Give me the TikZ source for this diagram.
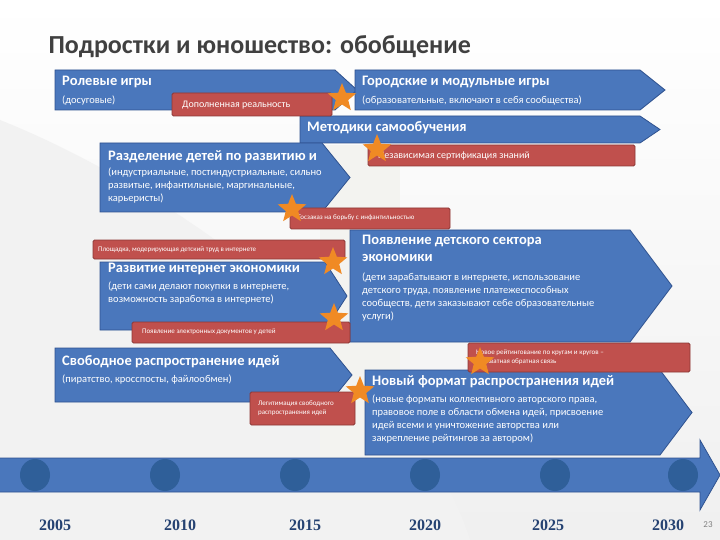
\documentclass[tikz,border=0pt]{standalone}
\usepackage{fontspec}
\setmainfont{Carlito}
\newfontfamily\yrfont{Liberation Serif}
\usetikzlibrary{shapes.geometric}
\definecolor{bl}{HTML}{4A77BC}
\definecolor{bld}{HTML}{2F528F}
\definecolor{rd}{HTML}{C0504D}
\definecolor{rdd}{HTML}{8C3836}
\definecolor{st}{HTML}{F08A24}
\definecolor{cir}{HTML}{2F5F99}
\tikzset{
 arr/.style={fill=bl,draw=bld,line width=0.8pt},
 redbox/.style={fill=rd,draw=rdd,line width=0.8pt,rounded corners=1.5pt},
 hd/.style={anchor=north west,text=white,font=\bfseries\fontsize{14.5}{17}\selectfont,inner sep=0},
 bd/.style={anchor=north west,text=white,font=\fontsize{10.5}{13}\selectfont,inner sep=0,align=left},
 sm/.style={anchor=west,text=white,font=\fontsize{10}{11}\selectfont,inner sep=0,align=left},
 tiny/.style={anchor=west,text=white,font=\fontsize{7}{8.5}\selectfont,inner sep=0,align=left},
 ostar/.style={star,star points=5,star point ratio=2.3,fill=st,minimum size=30pt,inner sep=0,draw=none},
 yr/.style={font=\yrfont\bfseries\fontsize{16}{18}\selectfont,text=bld!80!black}
}
\newcommand{\parr}[5]{\path[arr] (#1,#2) -- (#3,#2) -- (#5,{(#2+#4)/2}) -- (#3,#4) -- (#1,#4) -- cycle;}
\begin{document}
\begin{tikzpicture}[x=1pt,y=-1pt]
\useasboundingbox (0,0) rectangle (720,540);
\shade[top color=white,bottom color=gray!12] (0,0) rectangle (720,540);
\fill[gray!10] (0,120) .. controls (200,200) and (420,380) .. (470,540) -- (0,540) -- cycle;
\fill[yellow!8!gray!12] (320,145) rectangle (400,500);
\node[anchor=west,text=black!75,font=\bfseries\fontsize{26}{30}\selectfont] (title) at (45,47) {Подростки и юношество: обобщение};
% arrows
\parr{55}{70}{335}{110}{357}
\parr{355}{70}{640}{110}{665}
\parr{300}{116}{640}{143}{660}
\parr{100}{143}{322}{212}{350}
\parr{350}{230}{630}{342}{672}
\parr{100}{262}{325}{330}{347}
\parr{55}{348}{330}{402}{352}
\parr{365}{370}{660}{455}{692}
% timeline
\path[arr] (-2,458) -- (700,458) -- (700,440) -- (720,475) -- (700,510) -- (700,492) -- (-2,492) -- cycle;
\foreach \x in {35,165,295,425,555,683}
  \fill[cir] (\x,475) ellipse (15 and 16);
\foreach \x/\y in {55/2005,180/2010,305/2015,425/2020,548/2025,668/2030}
  \node[yr] (y\y) at (\x,525) {\y};
\node[font=\fontsize{9}{10}\selectfont,text=gray] (pg) at (708,525) {23};
% red boxes
\path[redbox] (172,93) rectangle (332,116);
\node[sm] (r1) at (182,105) {Дополненная реальность};
\path[redbox] (368,145) rectangle (635,166);
\node[sm] (r2) at (378,156) {Независимая сертификация знаний};
\path[redbox] (290,208) rectangle (450,229);
\node[tiny] (r3) at (298,218) {Госзаказ на борьбу с инфантильностью};
\path[redbox] (93,240) rectangle (345,259);
\node[tiny] (r4) at (98,250) {Площадка, модерирующая детский труд в интернете};
\path[redbox] (132,322) rectangle (350,343);
\node[tiny] (r5) at (142,332) {Появление электронных документов у детей};
\path[redbox] (468,343) rectangle (690,372);
\node[tiny] (r6) at (476,357) {Новое рейтингование по кругам и кругов --\\адекватная обратная связь};
\path[redbox] (250,392) rectangle (355,425);
\node[tiny] (r7) at (258,408) {Легитимация свободного\\распространения идей};
% texts
\node[hd] (h1) at (62,76) {Ролевые игры};
\node[bd] (b1) at (62,96) {(досуговые)};
\node[hd] (h2) at (362,76) {Городские и модульные игры};
\node[bd] (b2) at (362,96) {(образовательные, включают в себя сообщества)};
\node[hd] (h3) at (307,121) {Методики самообучения};
\node[hd] (h4) at (108,150) {Разделение детей по развитию и};
\node[bd] (b4) at (108,168) {(индустриальные, постиндустриальные, сильно\\развитые, инфантильные, маргинальные,\\карьеристы)};
\node[hd,align=left] (h5) at (362,235) {Появление детского сектора\\экономики};
\node[bd] (b5) at (362,273) {(дети зарабатывают в интернете, использование\\детского труда, появление платежеспособных\\сообществ, дети заказывают себе образовательные\\услуги)};
\node[hd] (h6) at (108,263) {Развитие интернет экономики};
\node[bd] (b6) at (108,282) {(дети сами делают покупки в интернете,\\возможность заработка в интернете)};
\node[hd] (h7) at (62,355) {Свободное распространение идей};
\node[bd] (b7) at (62,375) {(пиратство, кросспосты, файлообмен)};
\node[hd] (h8) at (372,375) {Новый формат распространения идей};
\node[bd] (b8) at (372,395) {(новые форматы коллективного авторского права,\\правовое поле в области обмена идей, присвоение\\идей всеми и уничтожение авторства или\\закрепление рейтингов за автором)};
% stars
\foreach \x/\y/\n in {342/98/s1,377/149/s2,292/209/s3,333/262/s4,334/318/s5,360/391/s6,480/362/s7}
  \node[ostar] (\n) at (\x,\y) {};
\end{tikzpicture}
\end{document}
